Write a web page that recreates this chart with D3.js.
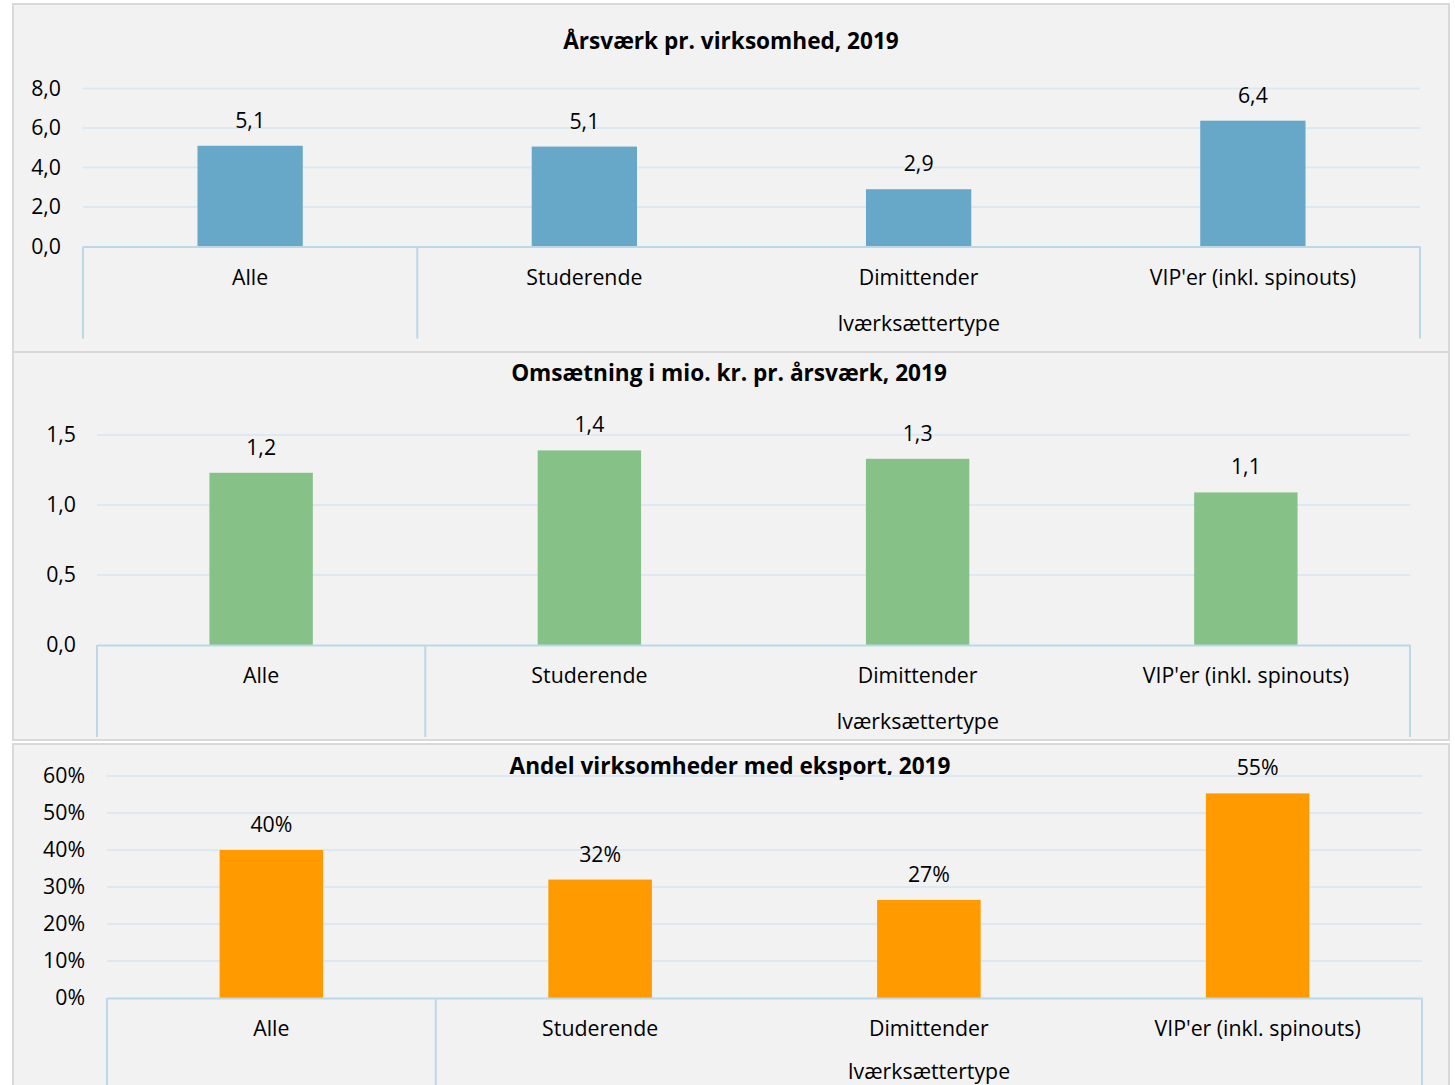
<!DOCTYPE html>
<html><head><meta charset="utf-8">
<script src="https://cdn.jsdelivr.net/npm/d3@7"></script>
<style>
html,body{margin:0;padding:0;background:#fff;}
svg{display:block;font-family:"Open Sans","Noto Sans",sans-serif;}
</style></head><body>
<svg id="c" width="1455" height="1085"></svg>
<script>
const categories = ["Alle", "Studerende", "Dimittender", "VIP'er (inkl. spinouts)"];
const groups = ["", "Iværksættertype", "Iværksættertype", "Iværksættertype"];

const title1 = "Årsværk pr. virksomhed, 2019";
const values1 = [5.1, 5.06, 2.9, 6.37];
const ticks1 = [0, 2, 4, 6, 8];

const title2 = "Omsætning i mio. kr. pr. årsværk, 2019";
const values2 = [1.23, 1.39, 1.33, 1.09];
const ticks2 = [0, 0.5, 1.0, 1.5];

const title3 = "Andel virksomheder med eksport, 2019";
const values3 = [0.40, 0.32, 0.265, 0.553];
const ticks3 = [0, 0.1, 0.2, 0.3, 0.4, 0.5, 0.6];

const loc = d3.formatLocale({decimal: ",", thousands: ".", grouping: [3], currency: ["", " kr."]});
const svg = d3.select("#c");
const FS = 21.3;

function panel(cfg) {
  const g = svg.append("g");
  g.append("rect").attr("x", 13).attr("y", cfg.py0).attr("width", 1436).attr("height", cfg.py1 - cfg.py0)
    .attr("fill", "#f2f2f2").attr("stroke", "#d9d9d9").attr("stroke-width", 2);
  g.append("text").attr("x", cfg.titleX).attr("y", cfg.titleY).attr("text-anchor", "middle")
    .attr("font-size", 22.6).attr("font-weight", "bold").attr("fill", "#000").text(cfg.title);

  const x = d3.scaleBand().domain(cfg.categories).range([cfg.x0, cfg.x1]).paddingInner(0).paddingOuter(0);
  const y = d3.scaleLinear().domain(cfg.domain).range([cfg.yBase, cfg.yTop]);

  g.append("g").selectAll("line").data(cfg.ticks.slice(1)).join("line")
    .attr("x1", cfg.x0).attr("x2", cfg.x1).attr("y1", d => y(d)).attr("y2", d => y(d))
    .attr("stroke", "#dde9f2").attr("stroke-width", 2);

  const ya = g.append("g").attr("transform", `translate(${cfg.labelX},0)`)
    .call(d3.axisLeft(y).tickValues(cfg.ticks).tickFormat(cfg.fmt).tickSize(0).tickPadding(0));
  ya.select(".domain").remove();
  ya.selectAll("text").attr("font-size", FS).attr("fill", "#000").attr("font-family", "Open Sans, Noto Sans, sans-serif");

  const bw = x.bandwidth() * 0.315;
  g.append("g").selectAll("rect").data(cfg.values).join("rect")
    .attr("x", (d, i) => x(cfg.categories[i]) + x.bandwidth() / 2 - bw / 2)
    .attr("width", bw)
    .attr("y", d => y(d)).attr("height", d => cfg.yBase - y(d))
    .attr("fill", cfg.color);

  g.append("g").selectAll("text").data(cfg.values).join("text")
    .attr("x", (d, i) => x(cfg.categories[i]) + x.bandwidth() / 2)
    .attr("y", d => y(d) - 18)
    .attr("text-anchor", "middle").attr("font-size", FS).attr("fill", "#000")
    .text(d => cfg.fmt(d));

  const xa = g.append("g").attr("transform", `translate(0,${cfg.yBase})`)
    .call(d3.axisBottom(x).tickSize(0).tickPadding(0));
  xa.select(".domain").attr("stroke", "#bcd7e8").attr("stroke-width", 2);
  xa.selectAll("text").attr("font-size", FS).attr("fill", "#000").attr("dy", 0).attr("y", 38)
    .attr("font-family", "Open Sans, Noto Sans, sans-serif");

  const bounds = [cfg.x0];
  for (let i = 1; i < cfg.categories.length; i++) {
    if (cfg.groups[i] !== cfg.groups[i - 1]) bounds.push(x(cfg.categories[i]));
  }
  bounds.push(cfg.x1);
  g.append("g").selectAll("line").data(bounds).join("line")
    .attr("x1", d => d).attr("x2", d => d).attr("y1", cfg.yBase).attr("y2", cfg.yBase + cfg.divLen)
    .attr("stroke", "#bcd7e8").attr("stroke-width", 2);

  const groupNames = Array.from(new Set(cfg.groups));
  groupNames.forEach(gn => {
    if (!gn) return;
    const idx = cfg.groups.map((v, i) => v === gn ? i : -1).filter(i => i >= 0);
    const gx0 = x(cfg.categories[idx[0]]);
    const gx1 = x(cfg.categories[idx[idx.length - 1]]) + x.bandwidth();
    g.append("text").attr("x", (gx0 + gx1) / 2).attr("y", cfg.yBase + cfg.groupDy)
      .attr("text-anchor", "middle").attr("font-size", FS).attr("fill", "#000").text(gn);
  });
}

panel({py0: 4, py1: 352, title: title1, titleX: 731, titleY: 49,
  categories, groups, values: values1, ticks: ticks1, domain: [0, 8],
  x0: 83, x1: 1420, yBase: 246.5, yTop: 88.5, labelX: 61, color: "#67a8c8",
  fmt: loc.format(".1f"), divLen: 92, groupDy: 84});

panel({py0: 352, py1: 740, title: title2, titleX: 729, titleY: 381,
  categories, groups, values: values2, ticks: ticks2, domain: [0, 1.5],
  x0: 97, x1: 1410, yBase: 645, yTop: 435, labelX: 76, color: "#86c288",
  fmt: loc.format(".1f"), divLen: 92, groupDy: 84});

panel({py0: 744, py1: 1100, title: title3, titleX: 730, titleY: 774,
  categories, groups, values: values3, ticks: ticks3, domain: [0, 0.6],
  x0: 107, x1: 1422, yBase: 998, yTop: 776, labelX: 85, color: "#ff9a00",
  fmt: loc.format(".0%"), divLen: 100, groupDy: 81});
</script>
</body></html>
